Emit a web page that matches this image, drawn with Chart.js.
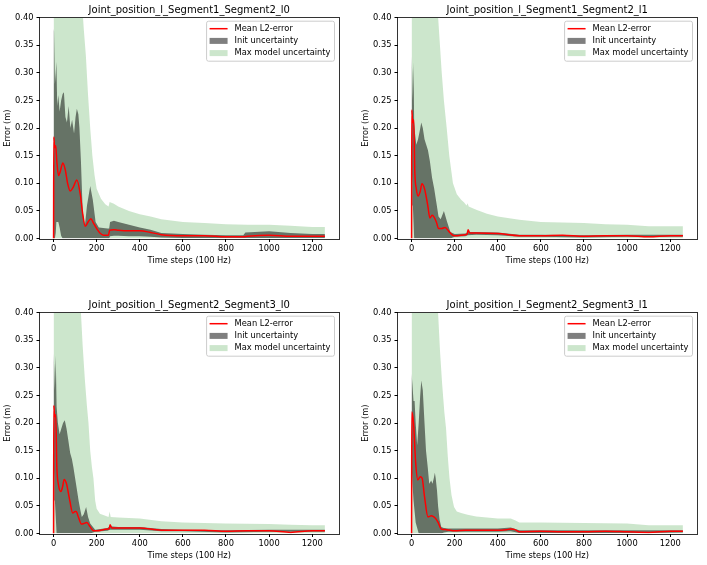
<!DOCTYPE html>
<html>
<head>
<meta charset="utf-8">
<script src="https://cdn.jsdelivr.net/npm/chart.js@4"></script>
<style>
  html, body { margin: 0; padding: 0; background: #fff; overflow: hidden; }
  body { width: 707px; height: 565px; position: relative; }
  canvas { position: absolute; }
</style>
</head>
<body>
<canvas id="c1" width="345" height="270" style="left:0px;top:0px"></canvas>
<canvas id="c2" width="345" height="270" style="left:358px;top:0px"></canvas>
<canvas id="c3" width="345" height="270" style="left:0px;top:295px"></canvas>
<canvas id="c4" width="345" height="270" style="left:358px;top:295px"></canvas>
<script>
  "use strict";

  var xTicks = [0, 200, 400, 600, 800, 1000, 1200];
  var yTicks = [0, 0.05, 0.10, 0.15, 0.20, 0.25, 0.30, 0.35, 0.40];
  var seriesNames = ['Mean L2-error', 'Init uncertainty', 'Max model uncertainty'];
  var titles = [
    'Joint_position_l_Segment1_Segment2_l0',
    'Joint_position_l_Segment1_Segment2_l1',
    'Joint_position_l_Segment2_Segment3_l0',
    'Joint_position_l_Segment2_Segment3_l1'
  ];

  /* panel 1 */
  var meanSteps1 = [0, 1, 5, 10, 15, 23, 30, 43, 54, 65, 77, 90, 108, 124, 135, 147, 160, 173, 185, 200, 215, 232, 255, 260, 280, 300, 350, 400, 450, 500, 600, 700, 800, 880, 900, 1000, 1100, 1200, 1259];
  var mean1 = [0, 0.184, 0.165, 0.168, 0.14, 0.114, 0.12, 0.137, 0.125, 0.1, 0.086, 0.092, 0.106, 0.08, 0.045, 0.022, 0.03, 0.036, 0.028, 0.018, 0.01, 0.006, 0.006, 0.015, 0.016, 0.015, 0.014, 0.014, 0.011, 0.007, 0.005, 0.005, 0.003, 0.003, 0.004, 0.006, 0.004, 0.004, 0.004];
  var initSteps1 = [0, 2, 6, 10, 13, 17, 22, 28, 35, 42, 48, 55, 62, 70, 78, 86, 95, 102, 108, 115, 120, 127, 135, 145, 155, 170, 182, 195, 210, 250, 258, 262, 280, 300, 350, 400, 450, 500, 600, 700, 800, 880, 890, 1000, 1100, 1200, 1259];
  var initHi1 = [0.375, 0.38, 0.28, 0.3, 0.32, 0.24, 0.26, 0.23, 0.25, 0.262, 0.265, 0.22, 0.21, 0.24, 0.2, 0.215, 0.19, 0.22, 0.235, 0.225, 0.2, 0.14, 0.05, 0.022, 0.06, 0.095, 0.07, 0.03, 0.02, 0.018, 0.018, 0.03, 0.032, 0.03, 0.025, 0.02, 0.016, 0.01, 0.008, 0.007, 0.006, 0.006, 0.011, 0.013, 0.01, 0.008, 0.008];
  var initLo1 = [0, 0, 0, 0.01, 0.03, 0.03, 0.03, 0.02, 0.005, 0, 0, 0, 0, 0, 0, 0, 0, 0, 0, 0, 0, 0, 0, 0, 0, 0, 0, 0, 0, 0, 0, 0.004, 0.005, 0.005, 0.004, 0.004, 0.003, 0.002, 0.001, 0.001, 0.001, 0.001, 0.001, 0.001, 0.001, 0.001, 0.001];
  var maxSteps1 = [0, 50, 100, 130, 140, 150, 160, 170, 180, 190, 200, 220, 240, 255, 260, 280, 300, 350, 400, 450, 500, 600, 700, 800, 900, 1000, 1100, 1200, 1259];
  var maxHi1 = [1.2, 1.0, 0.7, 0.44, 0.38, 0.33, 0.26, 0.2, 0.15, 0.115, 0.09, 0.072, 0.062, 0.058, 0.066, 0.063, 0.058, 0.05, 0.044, 0.04, 0.035, 0.03, 0.028, 0.026, 0.025, 0.025, 0.023, 0.021, 0.021];

  /* panel 2 */
  var meanSteps2 = [0, 1, 5, 10, 15, 22, 30, 40, 48, 60, 75, 85, 95, 102, 115, 125, 140, 155, 175, 190, 200, 250, 258, 262, 270, 300, 400, 500, 600, 700, 800, 900, 1000, 1100, 1200, 1259];
  var mean2 = [0, 0.233, 0.21, 0.215, 0.12, 0.09, 0.077, 0.085, 0.099, 0.09, 0.06, 0.037, 0.042, 0.04, 0.03, 0.018, 0.018, 0.02, 0.012, 0.006, 0.005, 0.007, 0.008, 0.016, 0.01, 0.01, 0.009, 0.005, 0.005, 0.006, 0.004, 0.005, 0.005, 0.003, 0.005, 0.005];
  var initSteps2 = [0, 3, 6, 9, 12, 16, 22, 30, 38, 45, 52, 60, 68, 76, 85, 95, 105, 115, 125, 135, 150, 165, 180, 200, 250, 260, 300, 400, 500, 600, 800, 1000, 1259];
  var initHi2 = [0.33, 0.3, 0.25, 0.32, 0.21, 0.19, 0.17, 0.18, 0.195, 0.21, 0.2, 0.18, 0.17, 0.16, 0.14, 0.11, 0.09, 0.065, 0.04, 0.035, 0.05, 0.03, 0.012, 0.008, 0.009, 0.012, 0.012, 0.011, 0.007, 0.007, 0.006, 0.007, 0.007];
  var initLo2 = [0.15, 0.1, 0.06, 0.03, 0, 0, 0, 0, 0, 0, 0, 0, 0, 0, 0, 0, 0, 0, 0, 0, 0, 0, 0, 0.003, 0.004, 0.006, 0.007, 0.006, 0.003, 0.003, 0.002, 0.003, 0.003];
  var maxSteps2 = [0, 50, 100, 120, 130, 140, 150, 163, 175, 192, 210, 230, 244, 255, 260, 265, 300, 350, 400, 500, 600, 700, 800, 900, 1000, 1100, 1200, 1259];
  var maxHi2 = [1.2, 1.0, 0.6, 0.42, 0.36, 0.3, 0.25, 0.2, 0.15, 0.1, 0.08, 0.07, 0.065, 0.06, 0.064, 0.058, 0.052, 0.045, 0.04, 0.034, 0.03, 0.029, 0.028, 0.026, 0.025, 0.022, 0.022, 0.022];

  /* panel 3 */
  var meanSteps3 = [0, 1, 5, 10, 15, 22, 34, 42, 49, 60, 75, 89, 100, 105, 115, 130, 140, 154, 170, 185, 200, 250, 258, 262, 270, 300, 400, 500, 600, 700, 800, 900, 1000, 1100, 1200, 1259];
  var mean3 = [0, 0.232, 0.212, 0.215, 0.122, 0.09, 0.076, 0.085, 0.098, 0.09, 0.06, 0.037, 0.04, 0.04, 0.03, 0.017, 0.018, 0.02, 0.012, 0.005, 0.005, 0.008, 0.008, 0.016, 0.01, 0.01, 0.01, 0.006, 0.006, 0.006, 0.004, 0.005, 0.005, 0.002, 0.005, 0.005];
  var initSteps3 = [0, 3, 6, 10, 14, 20, 28, 36, 44, 52, 60, 68, 77, 85, 92, 100, 108, 116, 124, 131, 140, 151, 160, 170, 193, 250, 260, 300, 400, 500, 600, 800, 1000, 1259];
  var initHi3 = [0.327, 0.3, 0.26, 0.323, 0.23, 0.2, 0.18, 0.19, 0.2, 0.205, 0.19, 0.17, 0.146, 0.135, 0.12, 0.1, 0.08, 0.06, 0.043, 0.03, 0.035, 0.048, 0.03, 0.018, 0.007, 0.01, 0.013, 0.012, 0.012, 0.008, 0.007, 0.006, 0.007, 0.007];
  var initLo3 = [0.15, 0.1, 0.06, 0.03, 0, 0, 0, 0, 0, 0, 0, 0, 0, 0, 0, 0, 0, 0, 0, 0, 0, 0, 0, 0, 0.003, 0.005, 0.007, 0.007, 0.007, 0.004, 0.004, 0.002, 0.003, 0.003];
  var maxSteps3 = [0, 50, 100, 120, 127, 135, 145, 155, 162, 170, 178, 185, 193, 200, 215, 240, 255, 260, 265, 300, 400, 500, 600, 800, 1000, 1100, 1200, 1259];
  var maxHi3 = [1.2, 1.0, 0.6, 0.45, 0.4, 0.34, 0.28, 0.23, 0.2, 0.15, 0.12, 0.1, 0.06, 0.045, 0.036, 0.032, 0.03, 0.04, 0.03, 0.029, 0.027, 0.022, 0.02, 0.018, 0.017, 0.016, 0.015, 0.015];

  /* panel 4 */
  var meanSteps4 = [0, 1, 9, 19, 29, 40, 49, 60, 76, 91, 100, 112, 123, 138, 160, 200, 250, 300, 400, 440, 460, 480, 500, 600, 700, 800, 900, 1000, 1100, 1200, 1259];
  var mean4 = [0, 0.22, 0.2, 0.128, 0.097, 0.103, 0.1, 0.067, 0.03, 0.032, 0.031, 0.027, 0.02, 0.008, 0.007, 0.005, 0.006, 0.006, 0.006, 0.007, 0.008, 0.007, 0.003, 0.004, 0.003, 0.003, 0.004, 0.003, 0.002, 0.004, 0.004];
  var initSteps4 = [0, 4, 9, 14, 19, 26, 33, 40, 45, 52, 60, 67, 75, 82, 91, 97, 103, 108, 112, 118, 123, 130, 138, 150, 170, 250, 300, 400, 460, 500, 600, 800, 1000, 1100, 1259];
  var initHi4 = [0.29, 0.27, 0.24, 0.24, 0.2, 0.16, 0.2, 0.25, 0.277, 0.26, 0.2, 0.15, 0.12, 0.09, 0.096, 0.09, 0.1, 0.11, 0.1, 0.078, 0.05, 0.025, 0.012, 0.01, 0.009, 0.009, 0.009, 0.009, 0.011, 0.006, 0.006, 0.006, 0.006, 0.006, 0.006];
  var initLo4 = [0.13, 0.09, 0.06, 0.04, 0.02, 0.01, 0, 0, 0, 0, 0, 0, 0, 0, 0, 0, 0, 0, 0, 0, 0, 0, 0, 0.002, 0.003, 0.003, 0.003, 0.003, 0.004, 0.001, 0.001, 0.001, 0.001, 0.001, 0.002];
  var maxSteps4 = [0, 50, 100, 115, 123, 132, 142, 152, 160, 168, 176, 185, 197, 210, 230, 260, 300, 400, 460, 480, 500, 600, 800, 1000, 1100, 1200, 1259];
  var maxHi4 = [1.2, 1.0, 0.65, 0.47, 0.4, 0.33, 0.27, 0.22, 0.19, 0.14, 0.1, 0.07, 0.048, 0.04, 0.037, 0.034, 0.031, 0.027, 0.027, 0.024, 0.02, 0.02, 0.019, 0.018, 0.015, 0.015, 0.015];

  var FONT = '"DejaVu Sans", sans-serif';
  var RED = '#ff0000';
  var GRAY = 'rgba(0, 0, 0, 0.5)';
  var GREEN = 'rgba(0, 128, 0, 0.2)';

  function pts(xs, ys) {
    return xs.map(function (x, i) { return { x: x, y: ys[i] }; });
  }

  // box around the plot area, like matplotlib spines
  var framePlugin = {
    id: 'frame',
    afterDatasetsDraw: function (chart) {
      var a = chart.chartArea, ctx = chart.ctx;
      ctx.save();
      ctx.strokeStyle = 'rgba(0, 0, 0, 0.8)';
      ctx.lineWidth = 1;
      ctx.strokeRect(Math.round(a.left) - 0.5, Math.round(a.top) - 0.5, Math.round(a.right - a.left) + 1, Math.round(a.bottom - a.top) + 1);
      ctx.restore();
    }
  };

  // legend drawn inside the plot, upper right
  var legendPlugin = {
    id: 'innerLegend',
    afterDraw: function (chart) {
      var a = chart.chartArea, ctx = chart.ctx;
      ctx.save();
      ctx.font = '8.3px ' + FONT;
      var tw = Math.max.apply(null, seriesNames.map(function (t) { return ctx.measureText(t).width; }));
      var w = tw + 32, h = 40;
      var x = a.right - 4 - w, y = a.top + 3.5;
      ctx.beginPath();
      ctx.roundRect(x, y, w, h, 2);
      ctx.fillStyle = 'rgba(255, 255, 255, 0.8)';
      ctx.fill();
      ctx.strokeStyle = '#cccccc';
      ctx.lineWidth = 1;
      ctx.stroke();
      seriesNames.forEach(function (name, i) {
        var cy = y + 7.5 + i * 12.2;
        if (i === 0) {
          ctx.beginPath();
          ctx.moveTo(x + 3, cy);
          ctx.lineTo(x + 21, cy);
          ctx.strokeStyle = RED;
          ctx.lineWidth = 1.5;
          ctx.stroke();
        } else {
          ctx.fillStyle = i === 1 ? GRAY : GREEN;
          ctx.fillRect(x + 3, cy - 3, 18, 6);
        }
        ctx.fillStyle = '#000';
        ctx.textBaseline = 'middle';
        ctx.textAlign = 'left';
        ctx.fillText(name, x + 28, cy);
      });
      ctx.restore();
    }
  };

  function makeChart(id, title, meanSteps, mean, initSteps, initLo, initHi, maxSteps, maxHi) {
    var ctx = document.getElementById(id).getContext('2d');
    var tickFont = { family: FONT, size: 8.3 };
    return new Chart(ctx, {
      type: 'line',
      data: {
        datasets: [{
          label: seriesNames[0],
          data: pts(meanSteps, mean),
          borderColor: RED,
          borderWidth: 1.5,
          pointRadius: 0,
          cubicInterpolationMode: 'monotone',
          fill: false
        }, {
          label: seriesNames[1],
          data: pts(initSteps, initHi),
          borderColor: 'rgba(0,0,0,0)',
          borderWidth: 0,
          backgroundColor: GRAY,
          pointRadius: 0,
          fill: '+1'
        }, {
          label: 'init lower',
          data: pts(initSteps, initLo),
          borderColor: 'rgba(0,0,0,0)',
          borderWidth: 0,
          pointRadius: 0,
          fill: false
        }, {
          label: seriesNames[2],
          data: pts(maxSteps, maxHi),
          borderColor: 'rgba(0,0,0,0)',
          borderWidth: 0,
          backgroundColor: GREEN,
          pointRadius: 0,
          fill: 'origin'
        }]
      },
      options: {
        responsive: false,
        animation: false,
        devicePixelRatio: 1,
        events: [],
        layout: { padding: { left: 0, right: 6.5, top: 0, bottom: 0 } },
        plugins: {
          legend: { display: false },
          tooltip: { enabled: false },
          title: {
            display: true,
            text: title,
            fullSize: false,
            color: '#000',
            font: { family: FONT, size: 10, weight: 'normal' },
            padding: { top: 4.9, bottom: 0.8 }
          }
        },
        scales: {
          x: {
            type: 'linear',
            min: -63,
            max: 1322,
            afterFit: function (s) { s.height = 31.5; },
            afterBuildTicks: function (s) { s.ticks = xTicks.map(function (v) { return { value: v }; }); },
            grid: { drawOnChartArea: false, drawTicks: true, tickLength: 3.5, color: '#000' },
            border: { display: false },
            ticks: {
              color: '#000', font: tickFont, padding: 2, maxRotation: 0, autoSkip: false,
              callback: function (v) { return String(v); }
            },
            title: { display: true, text: 'Time steps (100 Hz)', color: '#000', font: tickFont, padding: { top: 0, bottom: 4 } }
          },
          y: {
            min: 0,
            max: 0.4,
            afterFit: function (s) { s.width = 40; },
            afterBuildTicks: function (s) { s.ticks = yTicks.map(function (v) { return { value: v }; }); },
            grid: { drawOnChartArea: false, drawTicks: true, tickLength: 3.5, color: '#000' },
            border: { display: false },
            ticks: {
              color: '#000', font: tickFont, padding: 3, autoSkip: false,
              callback: function (v) { return v.toFixed(2); }
            },
            title: { display: true, text: 'Error (m)', color: '#000', font: tickFont, padding: { top: 3, bottom: 0 } }
          }
        }
      },
      plugins: [framePlugin, legendPlugin]
    });
  }

  makeChart('c1', titles[0], meanSteps1, mean1, initSteps1, initLo1, initHi1, maxSteps1, maxHi1);
  makeChart('c2', titles[1], meanSteps2, mean2, initSteps2, initLo2, initHi2, maxSteps2, maxHi2);
  makeChart('c3', titles[2], meanSteps3, mean3, initSteps3, initLo3, initHi3, maxSteps3, maxHi3);
  makeChart('c4', titles[3], meanSteps4, mean4, initSteps4, initLo4, initHi4, maxSteps4, maxHi4);
</script>
</body>
</html>
